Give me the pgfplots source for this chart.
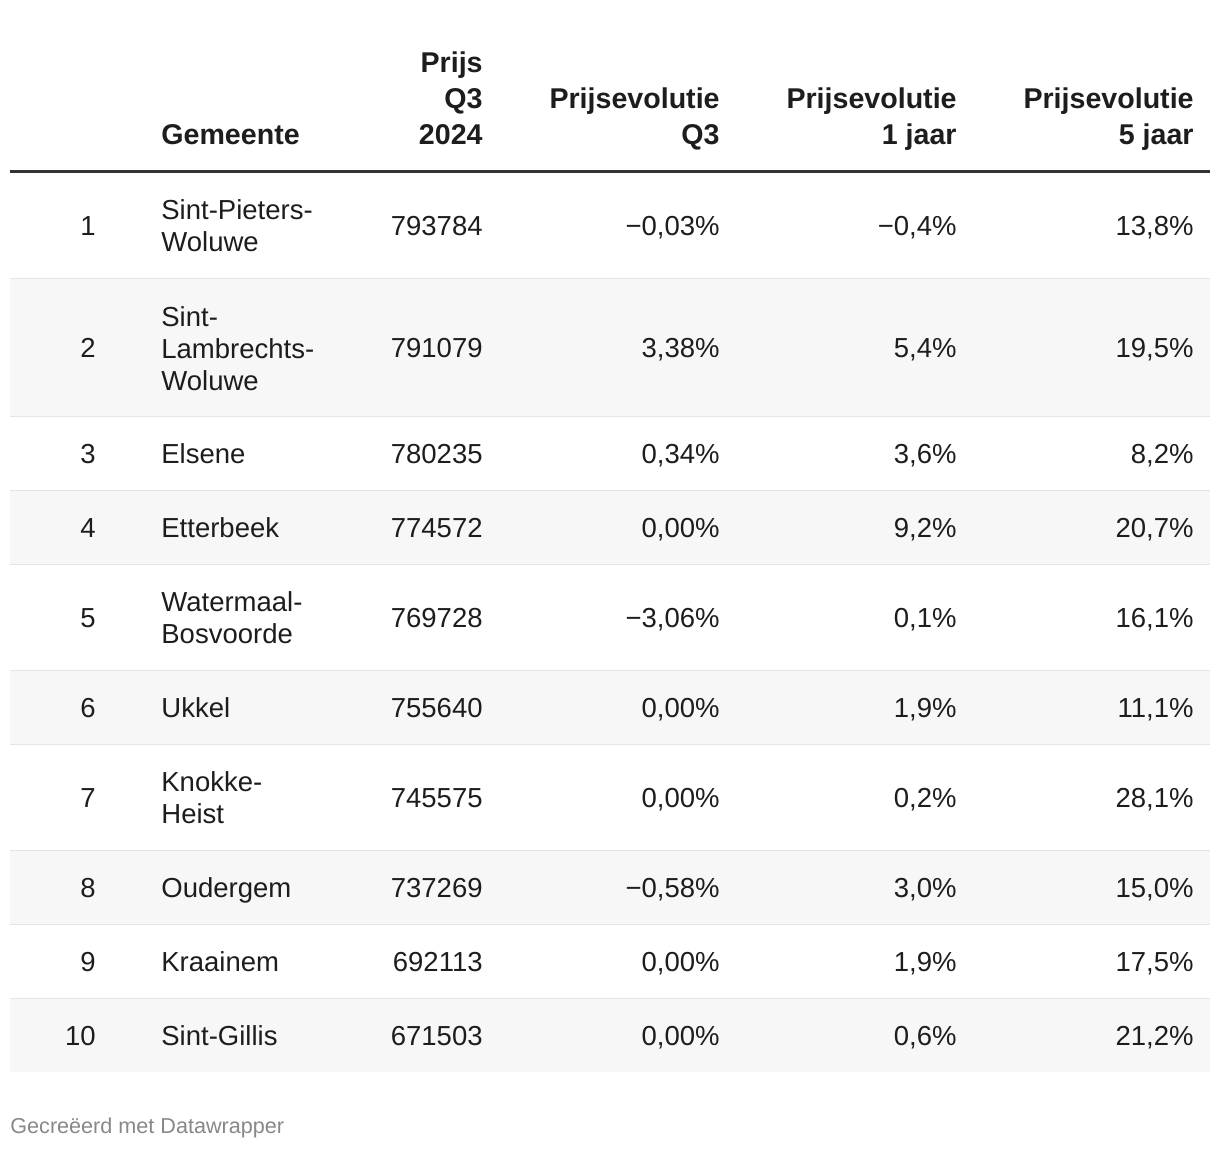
\documentclass[border=0pt]{standalone}
\usepackage{fontspec}
\setmainfont{Liberation Sans}
\usepackage{pgfplots}
\pgfplotsset{compat=1.18}
\definecolor{txt}{HTML}{1D1D1D}
\definecolor{rule}{HTML}{333333}
\definecolor{sep}{HTML}{E5E5E5}
\definecolor{band}{HTML}{F7F7F7}
\definecolor{foot}{HTML}{888888}

\pgfplotsset{
  cell/.style={only marks, mark=none, nodes near coords,
    point meta=explicit symbolic,
    every node near coord/.append style={font=\fontsize{13.75}{16}\selectfont,
      text=txt, inner sep=0pt, anchor=#1}},
}

\begin{document}
\begin{tikzpicture}
\begin{axis}[
  scale only axis, width=610pt, height=574pt,
  xmin=0, xmax=1220, ymin=0, ymax=1148, y dir=reverse,
  hide axis, clip=false,
]
\fill[white] (axis cs:0,0) rectangle (axis cs:1220,1148);
% banded rows
\fill[band] (axis cs:10,279) rectangle (axis cs:1210,416);
\fill[band] (axis cs:10,491) rectangle (axis cs:1210,564);
\fill[band] (axis cs:10,671) rectangle (axis cs:1210,744);
\fill[band] (axis cs:10,851) rectangle (axis cs:1210,924);
\fill[band] (axis cs:10,999) rectangle (axis cs:1210,1072);
\pgfplotsinvokeforeach{278.5, 416.5, 490.5, 564.5, 670.5, 744.5, 850.5, 924.5, 998.5}{
  \draw[sep, line width=0.5pt] (axis cs:10,#1) -- (axis cs:1210,#1);
}
\draw[rule, line width=1.5pt] (axis cs:10,171.5) -- (axis cs:1210,171.5);

% header
\begin{scope}[every node/.style={font=\fontsize{14.3}{16}\selectfont\bfseries, text=txt, inner sep=0pt}]
\node[anchor=base west] at (axis cs:161,144) {Gemeente};
\node[anchor=base east] at (axis cs:483,72) {Prijs};
\node[anchor=base east] at (axis cs:483,108) {Q3};
\node[anchor=base east] at (axis cs:483,144) {2024};
\node[anchor=base east] at (axis cs:720,108) {Prijsevolutie};
\node[anchor=base east] at (axis cs:720,144) {Q3};
\node[anchor=base east] at (axis cs:957,108) {Prijsevolutie};
\node[anchor=base east] at (axis cs:957,144) {1 jaar};
\node[anchor=base east] at (axis cs:1194,108) {Prijsevolutie};
\node[anchor=base east] at (axis cs:1194,144) {5 jaar};
\end{scope}

% rank
\addplot[cell=base east] coordinates {
  (96,235)[1] (96,357)[2] (96,463)[3] (96,537)[4] (96,627)[5]
  (96,717)[6] (96,807)[7] (96,897)[8] (96,971)[9] (96,1045)[10]
};
% Gemeente
\addplot[cell=base west] coordinates {
  (161,219)[Sint-Pieters-] (161,251)[Woluwe]
  (161,326)[Sint-] (161,358)[Lambrechts-] (161,390)[Woluwe]
  (161,463)[Elsene] (161,537)[Etterbeek]
  (161,611)[Watermaal-] (161,643)[Bosvoorde]
  (161,717)[Ukkel]
  (161,791)[Knokke-] (161,823)[Heist]
  (161,897)[Oudergem] (161,971)[Kraainem] (161,1045)[Sint-Gillis]
};
% Prijs Q3 2024
\addplot[cell=base east] coordinates {
  (483,235)[793784] (483,357)[791079] (483,463)[780235] (483,537)[774572]
  (483,627)[769728] (483,717)[755640] (483,807)[745575] (483,897)[737269]
  (483,971)[692113] (483,1045)[671503]
};
% Prijsevolutie Q3
\addplot[cell=base east] coordinates {
  (720,235)[{−0,03\%}] (720,357)[{3,38\%}] (720,463)[{0,34\%}] (720,537)[{0,00\%}]
  (720,627)[{−3,06\%}] (720,717)[{0,00\%}] (720,807)[{0,00\%}] (720,897)[{−0,58\%}]
  (720,971)[{0,00\%}] (720,1045)[{0,00\%}]
};
% Prijsevolutie 1 jaar
\addplot[cell=base east] coordinates {
  (957,235)[{−0,4\%}] (957,357)[{5,4\%}] (957,463)[{3,6\%}] (957,537)[{9,2\%}]
  (957,627)[{0,1\%}] (957,717)[{1,9\%}] (957,807)[{0,2\%}] (957,897)[{3,0\%}]
  (957,971)[{1,9\%}] (957,1045)[{0,6\%}]
};
% Prijsevolutie 5 jaar
\addplot[cell=base east] coordinates {
  (1194,235)[{13,8\%}] (1194,357)[{19,5\%}] (1194,463)[{8,2\%}] (1194,537)[{20,7\%}]
  (1194,627)[{16,1\%}] (1194,717)[{11,1\%}] (1194,807)[{28,1\%}] (1194,897)[{15,0\%}]
  (1194,971)[{17,5\%}] (1194,1045)[{21,2\%}]
};

\node[anchor=base west, inner sep=0pt, text=foot, font=\fontsize{10.8}{13}\selectfont]
  at (axis cs:10,1133) {Gecreëerd met Datawrapper};
\end{axis}
\end{tikzpicture}
\end{document}
